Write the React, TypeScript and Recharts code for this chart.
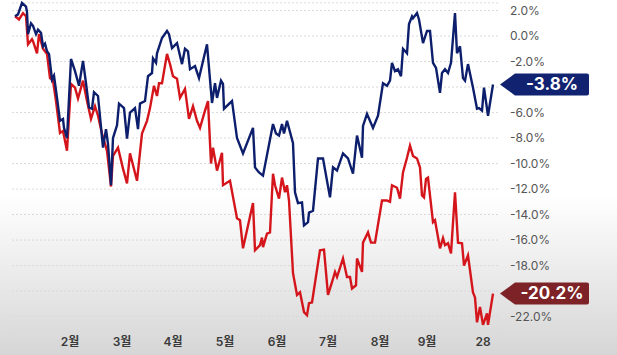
import React from 'react';
import { LineChart, Line, XAxis, YAxis, CartesianGrid, ReferenceDot } from 'recharts';

// time index (trading-day like units) and values in % — navy series
const navyT = [0, 3, 7, 11, 12, 13, 16, 18, 21, 23, 26, 28, 30, 32, 34, 37, 39, 42, 45, 48, 49, 52, 56, 60, 64, 68, 71, 74, 77, 79, 83, 88, 91, 93, 96, 98, 102, 104, 109, 112, 115, 120, 123, 125, 130, 133, 137, 138, 141, 142, 147, 152, 154, 157, 162, 167, 170, 173, 175, 180, 184, 192, 197, 200, 202, 206, 208, 209, 217, 222, 228, 238, 240, 244, 248, 258, 261, 264, 267, 269, 272, 278, 280, 283, 287, 289, 293, 294, 298, 303, 308, 315, 318, 322, 328, 333, 338, 342, 347, 348, 352, 358, 363, 368, 372, 375, 377, 380, 383, 386, 388, 392, 394, 397, 398, 402, 404, 408, 412, 415, 418, 421, 425, 427, 430, 433, 436, 440, 442, 445, 448, 450, 453, 458, 462, 464, 467, 469, 473, 478];
const navyV = [1.55, 1.7, 2.6, 2.3, 1.9, 0.15, 1.0, 0.8, 0.15, 0.5, 0.25, -0.8, -0.6, -1.2, -1.4, -3.4, -3.1, -4.85, -6.65, -6.5, -7.2, -8.0, -1.8, -2.75, -3.9, -1.95, -3.7, -5.6, -5.7, -4.4, -4.7, -8.75, -7.3, -8.45, -11.7, -8.0, -7.0, -5.3, -5.65, -8.05, -6.0, -5.65, -7.3, -5.3, -5.1, -3.15, -2.9, -1.75, -2.1, -1.35, -0.15, 0.4, 0.15, -0.95, -0.55, -2.2, -1.0, -1.2, -2.6, -2.35, -3.3, -0.65, -5.25, -3.7, -4.85, -3.5, -3.75, -5.7, -5.1, -8.0, -9.2, -7.2, -10.3, -10.7, -10.95, -6.9, -7.65, -7.8, -6.9, -7.65, -6.65, -8.4, -12.25, -13.1, -13.05, -14.85, -14.6, -13.85, -13.7, -9.6, -9.6, -12.65, -10.3, -10.55, -9.2, -9.6, -10.8, -7.8, -9.55, -7.05, -6.1, -7.2, -6.25, -3.7, -3.9, -3.5, -2.1, -2.75, -2.6, -3.15, -1.0, -1.35, 0.95, 1.55, 1.4, 1.8, 1.3, -0.55, 0.4, 0.4, -2.1, -2.5, -4.45, -2.9, -2.6, -2.9, -2.1, 1.8, -1.35, -0.8, -3.3, -3.5, -2.2, -4.05, -5.7, -5.65, -5.85, -4.05, -6.25, -3.8];

// red series
const redT = [0, 4, 8, 11, 13, 17, 18, 22, 24, 28, 32, 35, 38, 41, 45, 48, 52, 56, 60, 63, 68, 72, 76, 80, 83, 87, 92, 96, 98, 103, 108, 112, 115, 122, 127, 132, 135, 139, 142, 144, 147, 152, 155, 158, 162, 165, 170, 174, 178, 182, 185, 190, 193, 196, 198, 202, 207, 208, 215, 222, 225, 228, 238, 240, 245, 247, 248, 252, 255, 258, 260, 264, 267, 270, 272, 274, 278, 282, 285, 289, 292, 294, 297, 305, 309, 313, 317, 320, 322, 328, 332, 335, 337, 341, 342, 347, 348, 353, 356, 360, 367, 372, 375, 377, 382, 385, 388, 392, 395, 398, 402, 405, 407, 409, 411, 413, 418, 420, 425, 428, 430, 433, 436, 440, 443, 447, 449, 453, 458, 460, 462, 465, 468, 472, 473, 478];
const redV = [1.55, 1.3, 1.8, 1.55, -0.65, -0.25, -0.4, -1.35, 0.15, -1.0, -1.4, -3.3, -3.5, -5.1, -7.6, -7.45, -9.0, -3.75, -4.05, -4.9, -3.5, -5.1, -6.5, -5.5, -6.25, -7.65, -9.0, -11.8, -9.4, -8.75, -10.4, -11.55, -9.2, -11.35, -7.65, -6.65, -5.65, -3.9, -4.7, -3.7, -3.7, -1.4, -2.2, -3.15, -3.35, -4.85, -4.15, -6.5, -5.5, -6.65, -7.2, -5.85, -5.1, -10.0, -8.75, -10.55, -9.15, -11.7, -11.35, -14.3, -14.45, -16.65, -13.1, -16.8, -16.4, -15.8, -16.55, -15.5, -15.4, -10.8, -11.7, -12.75, -11.1, -12.25, -11.7, -12.9, -18.6, -20.3, -20.1, -21.65, -21.9, -20.95, -20.9, -16.8, -16.75, -20.3, -19.3, -18.5, -18.9, -17.45, -18.9, -18.9, -19.8, -19.55, -17.45, -18.5, -16.2, -15.4, -16.2, -16.2, -12.9, -12.9, -13.0, -11.7, -11.9, -12.75, -10.7, -9.55, -8.6, -9.4, -9.6, -10.3, -12.5, -12.65, -11.2, -11.1, -14.6, -14.45, -16.65, -15.85, -16.4, -16.25, -17.05, -12.25, -16.2, -16.25, -18.0, -17.2, -20.1, -20.5, -22.45, -21.25, -22.65, -21.75, -22.65, -20.2];

const monthTicks = [55, 107, 158, 210, 262, 313, 365, 412, 468];
const monthLabels = ['2월', '3월', '4월', '5월', '6월', '7월', '8월', '9월', '28'];
const yTicks = [2, 0, -2, -4, -6, -8, -10, -12, -14, -16, -18, -20, -22];
// tick labels covered by the end-value flags in the reference
const hiddenYLabels = [-4, -20];

const navyColor = '#0d1f6c';
const redColor = '#d4161c';

const navyData = navyT.map((t, i) => ({ t, v: navyV[i] }));
const redData = redT.map((t, i) => ({ t, v: redV[i] }));

const fontFamily = 'Inter, "Noto Sans", "Noto Sans CJK KR", sans-serif';

function makeFlag(label: string, color: string) {
  return (props: any) => {
    const { cx, cy } = props;
    if (cx == null || cy == null) return <g />;
    const tip = cx + 7;
    const left = cx + 22;
    const right = cx + 96;
    const h = 22;
    const top = cy - h / 2;
    const bot = cy + h / 2;
    const r = 2;
    const d = `M ${tip} ${cy} L ${left} ${top} L ${right - r} ${top} Q ${right} ${top} ${right} ${top + r} L ${right} ${bot - r} Q ${right} ${bot} ${right - r} ${bot} L ${left} ${bot} Z`;
    return (
      <g>
        <path d={d} fill={color} />
        <text
          x={(left + right) / 2}
          y={cy + 1}
          fill="#ffffff"
          fontSize={17}
          fontWeight={700}
          fontFamily={fontFamily}
          textAnchor="middle"
          dominantBaseline="middle"
        >
          {label}
        </text>
      </g>
    );
  };
}

export default function App() {
  const lastNavy = navyData[navyData.length - 1];
  const lastRed = redData[redData.length - 1];
  return (
    <div
      style={{
        position: 'absolute',
        left: 0,
        top: 0,
        width: 617,
        height: 355,
        background: 'linear-gradient(180deg, #ffffff 0%, #ffffff 55%, #d6d6d6 100%)',
        overflow: 'hidden',
      }}
    >
      <LineChart
        width={617}
        height={355}
        margin={{ top: 2.9, right: 0, left: 12, bottom: 0 }}
      >
        <CartesianGrid
          horizontal={true}
          vertical={false}
          stroke="#d9d9d9"
          strokeDasharray="2 2"
        />
        <XAxis
          dataKey="t"
          type="number"
          domain={[-3, 484]}
          ticks={monthTicks}
          tickFormatter={(v: number) => monthLabels[monthTicks.indexOf(v)] ?? ''}
          axisLine={false}
          tickLine={false}
          height={25.7}
          interval={0}
          tick={{ fill: '#3a3a3a', fontSize: 12, fontWeight: 600, fontFamily }}
        />
        <YAxis
          orientation="right"
          type="number"
          domain={[-23, 2.5]}
          ticks={yTicks}
          interval={0}
          width={118}
          axisLine={false}
          tickLine={false}
          tickMargin={5}
          tickFormatter={(v: number) => (hiddenYLabels.includes(v) ? '' : `${v.toFixed(1)}%`)}
          tick={{ fill: '#555555', fontSize: 12, fontFamily, textAnchor: 'start' }}
        />
        <Line
          data={redData}
          dataKey="v"
          type="linear"
          stroke={redColor}
          strokeWidth={2.4}
          dot={false}
          isAnimationActive={false}
        />
        <Line
          data={navyData}
          dataKey="v"
          type="linear"
          stroke={navyColor}
          strokeWidth={2.4}
          dot={false}
          isAnimationActive={false}
        />
        <ReferenceDot
          x={lastNavy.t}
          y={lastNavy.v}
          r={0}
          shape={makeFlag(`${lastNavy.v.toFixed(1)}%`, '#102270')}
          ifOverflow="visible"
        />
        <ReferenceDot
          x={lastRed.t}
          y={lastRed.v}
          r={0}
          shape={makeFlag(`${lastRed.v.toFixed(1)}%`, '#7d2226')}
          ifOverflow="visible"
        />
      </LineChart>
    </div>
  );
}
